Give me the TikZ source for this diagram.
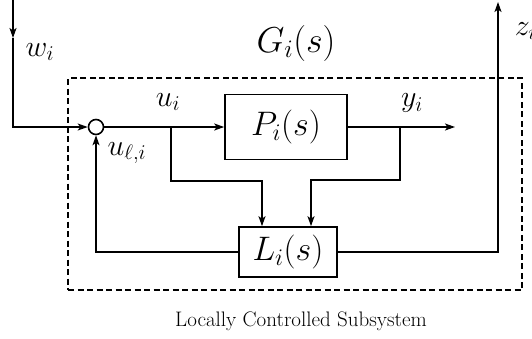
\RequirePackage{fix-cm}
\documentclass[tikz,border=0pt]{standalone}
\usetikzlibrary{arrows.meta}
\begin{document}
\begin{tikzpicture}[x=1pt,y=-1pt, line width=1.6pt,
  sig/.style={-{Stealth[length=10pt,width=7pt,inset=2.5pt]}},
  blk/.style={draw, inner sep=0pt, font=\fontsize{34}{40}\selectfont},
  lbl/.style={font=\fontsize{30}{36}\selectfont, inner sep=0pt},
  dashbox/.style={draw, dash pattern=on 6pt off 3.5pt, line width=1.4pt, inner sep=0pt}]
\useasboundingbox (0,0) rectangle (532,338);
% dashed subsystem frame
\node[dashbox, minimum width=454pt, minimum height=212pt] (frame) at (295,184) {};
% blocks
\node[blk, minimum width=122pt, minimum height=65pt] (P) at (286,127) {$P_i(s)$};
\node[blk, minimum width=98pt, minimum height=50pt] (L) at (288,252) {$L_i(s)$};
\node[draw, circle, minimum size=15pt, inner sep=0pt] (sum) at (96,127) {};
% coordinates
\coordinate (wtop) at (13,0);
\coordinate (wmid) at (13,38);
\coordinate (wc) at (13,127);
\coordinate (yend) at (455,127);
\coordinate (ub) at (171,127);
\coordinate (ub2) at (171,181);
\coordinate (ub3) at (262,181);
\coordinate (yb) at (400,127);
\coordinate (yb2) at (400,180);
\coordinate (yb3) at (311,180);
\coordinate (fb) at (96,252);
\coordinate (zc) at (498,252);
\coordinate (ztop) at (498,2);
% connectors
\draw[sig] (wtop) -- (wmid);
\draw[sig] (wmid) -- (wc) -- (sum);
\draw[sig] (sum) -- (P);
\draw[sig] (P) -- (yend);
\draw[sig] (ub) -- (ub2) -- (ub3) -- (ub3 |- L.north);
\draw[sig] (yb) -- (yb2) -- (yb3) -- (yb3 |- L.north);
\draw[sig] (L.west) -- (fb) -- (sum.south);
\draw[sig] (L.east) -- (zc) -- (ztop);
% labels
\node[lbl] (wl) at (40,52) {$w_i$};
\node[lbl] (ul) at (168,102) {$u_i$};
\node[lbl] (yl) at (412,103) {$y_i$};
\node[lbl] (ull) at (127,153) {$u_{\ell,i}$};
\node[lbl, anchor=west] (zl) at (514,31) {$z_i$};
\node[font=\fontsize{36}{42}\selectfont, inner sep=0pt] (gl) at (296,43) {$G_i(s)$};
\node[font=\fontsize{21}{25}\selectfont, inner sep=0pt] (cap) at (301,321) {Locally Controlled Subsystem};
\end{tikzpicture}
\end{document}
